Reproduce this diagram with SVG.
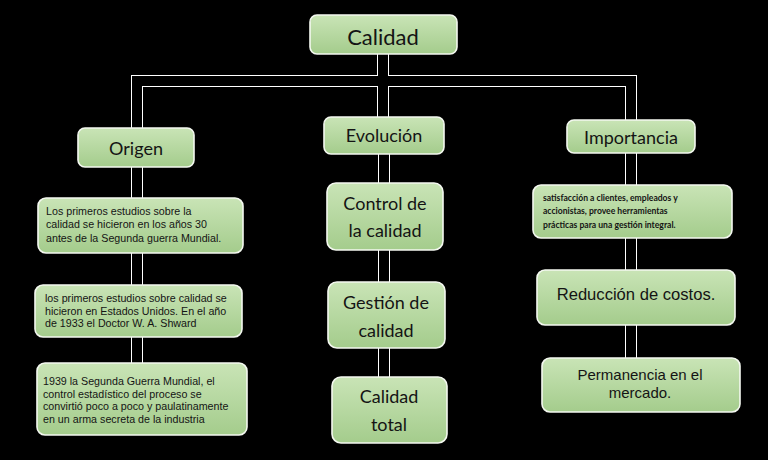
<svg xmlns="http://www.w3.org/2000/svg" width="768" height="460" viewBox="0 0 768 460">
<defs>
<linearGradient id="g" x1="0" y1="0" x2="0" y2="1">
<stop offset="0" stop-color="#c9e4b6"/>
<stop offset="1" stop-color="#a4cc8c"/>
</linearGradient>
<style>
.box{fill:url(#g);stroke:#f4f8f0;stroke-width:1.6}
.co{fill:none;stroke:#ffffff;stroke-width:12;stroke-linejoin:miter}
.ci{fill:none;stroke:#000000;stroke-width:10;stroke-linejoin:miter}
.h{font-family:Lato,"Open Sans","DejaVu Sans",sans-serif;fill:#141414;text-anchor:middle}
.a{font-family:"Liberation Sans",Arial,sans-serif;fill:#141414}
.s{font-family:Lato,"Open Sans",sans-serif;font-weight:bold;fill:#141414;font-size:8.6px}
</style>
<path id="p1" d="M137 363 V81 H631 V358"/>
<path id="p2" d="M383 54 V117"/>
<path id="p3" d="M384 154 V377"/>
</defs>
<rect width="768" height="460" fill="#000"/>
<g id="connectors">
<use href="#p1" class="co"/><use href="#p2" class="co"/><use href="#p3" class="co"/>
<use href="#p1" class="ci"/><use href="#p2" class="ci"/><use href="#p3" class="ci"/>
</g>
<g id="calidad"><rect class="box" x="310" y="15" width="147" height="39" rx="7"/><text class="h" x="383" y="45" font-size="22">Calidad</text></g>
<g id="origen"><rect class="box" x="78" y="128" width="116" height="39" rx="7"/><text class="h" x="136" y="155" font-size="18">Origen</text></g>
<g id="evolucion"><rect class="box" x="324" y="117" width="120" height="37" rx="7"/><text class="h" x="384" y="142" font-size="18">Evolución</text></g>
<g id="importancia"><rect class="box" x="567" y="120" width="128" height="33" rx="7"/><text class="h" x="631" y="144" font-size="18">Importancia</text></g>
<g id="control"><rect class="box" x="327" y="183" width="116" height="67" rx="9"/><text class="h" x="385" y="210" font-size="18">Control de</text><text class="h" x="385" y="237" font-size="18">la calidad</text></g>
<g id="gestion"><rect class="box" x="328" y="282" width="117" height="66" rx="9"/><text class="h" x="386" y="309" font-size="18">Gestión de</text><text class="h" x="386" y="337" font-size="18">calidad</text></g>
<g id="total"><rect class="box" x="332" y="377" width="115" height="66" rx="9"/><text class="h" x="389" y="403" font-size="18">Calidad</text><text class="h" x="389" y="431" font-size="18">total</text></g>
<g id="origen1"><rect class="box" x="38" y="198" width="205" height="55" rx="8"/><text class="a" x="46" y="215" font-size="10.7">Los primeros estudios sobre la</text><text class="a" x="46" y="228" font-size="10.7">calidad se hicieron en los años 30</text><text class="a" x="46" y="242" font-size="10.7">antes de la Segunda guerra Mundial.</text></g>
<g id="origen2"><rect class="box" x="35" y="285" width="207" height="52" rx="8"/><text class="a" x="45" y="302" font-size="10.7">los primeros estudios sobre calidad se</text><text class="a" x="45" y="315" font-size="10.7">hicieron en Estados Unidos. En el año</text><text class="a" x="45" y="327" font-size="10.7">de 1933 el Doctor W. A. Shward</text></g>
<g id="origen3"><rect class="box" x="37" y="363" width="210" height="72" rx="8"/><text class="a" x="43" y="385" font-size="10.7">1939 la Segunda Guerra Mundial, el</text><text class="a" x="43" y="398" font-size="10.7">control estadístico del proceso se</text><text class="a" x="43" y="410" font-size="10.7">convirtió poco a poco y paulatinamente</text><text class="a" x="43" y="423" font-size="10.7">en un arma secreta de la industria</text></g>
<g id="imp1"><rect class="box" x="533" y="185" width="199" height="53" rx="8"/><text class="s" x="543" y="201">satisfacción a clientes, empleados y</text><text class="s" x="543" y="214">accionistas, provee herramientas</text><text class="s" x="543" y="228">prácticas para una gestión integral.</text></g>
<g id="imp2"><rect class="box" x="537" y="270" width="198" height="55" rx="8"/><text class="a" x="636" y="300" font-size="16.6" text-anchor="middle">Reducción de costos.</text></g>
<g id="imp3"><rect class="box" x="542" y="358" width="198" height="54" rx="8"/><text class="a" x="640" y="380" font-size="15" text-anchor="middle">Permanencia en el</text><text class="a" x="640" y="398" font-size="15" text-anchor="middle">mercado.</text></g>
</svg>
